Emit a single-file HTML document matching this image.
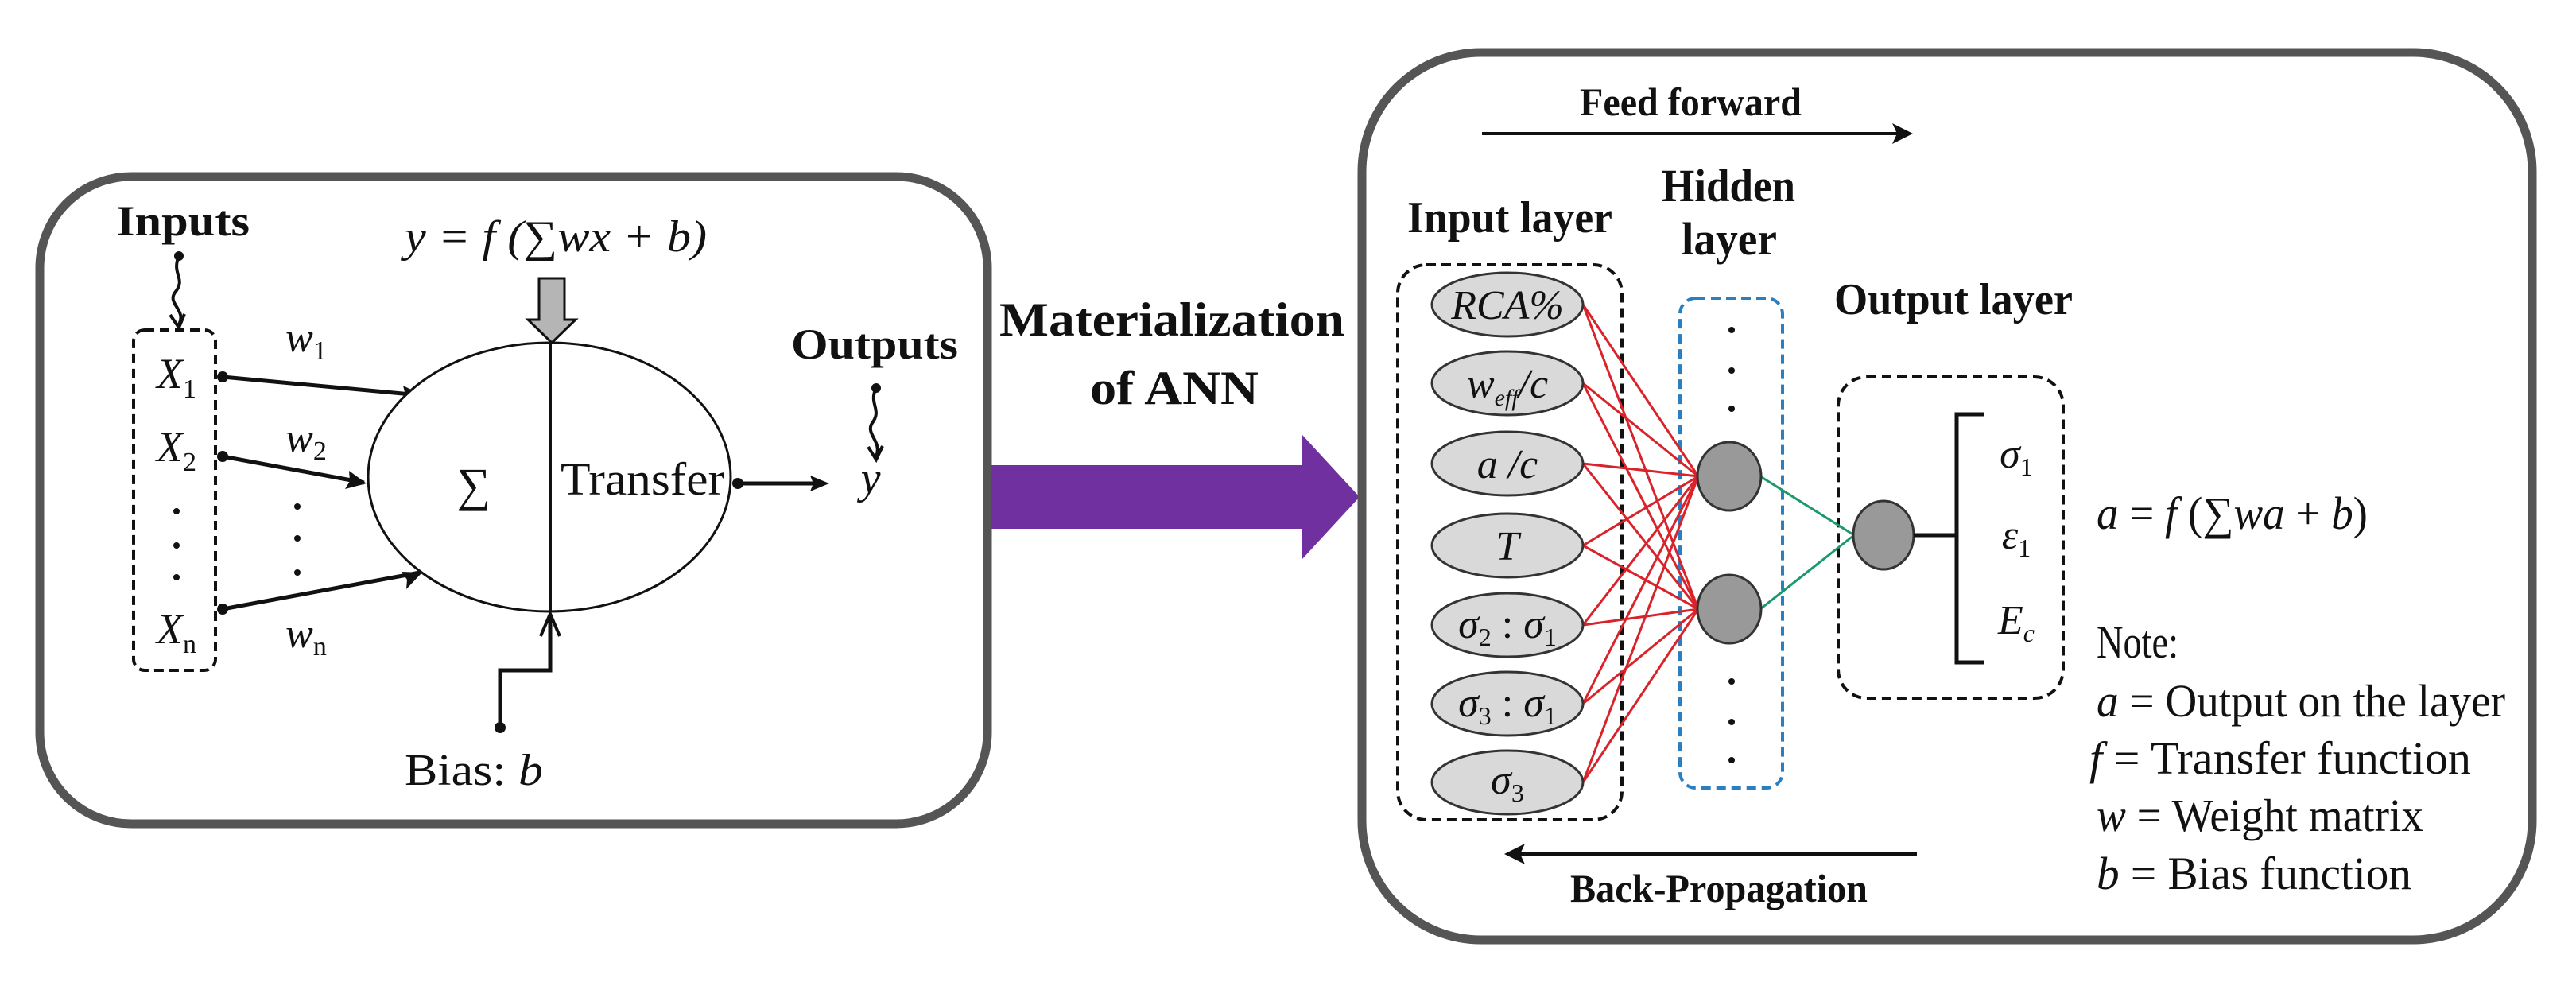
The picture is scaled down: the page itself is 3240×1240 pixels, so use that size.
<!DOCTYPE html>
<html><head><meta charset="utf-8"><style>
html,body{margin:0;padding:0;background:#fff;}
svg{display:block;}
text{font-family:"Liberation Serif",serif;fill:#111;}
.b{font-weight:bold;}
.i{font-style:italic;}
</style></head><body>
<svg width="3240" height="1240" viewBox="0 0 3240 1240" xmlns="http://www.w3.org/2000/svg">
<!-- Left box -->
<rect x="50" y="222" width="1192" height="814" rx="115" fill="none" stroke="#555" stroke-width="11"/>
<text x="146" y="296" font-size="54" class="b" textLength="168" lengthAdjust="spacingAndGlyphs">Inputs</text>
<circle cx="225" cy="322" r="6" fill="#111"/>
<path d="M225 322 C 215 345, 235 350, 220 368 C 210 382, 235 390, 225 408" fill="none" stroke="#111" stroke-width="4"/>
<path d="M214 396 L225 412 L232 395" fill="none" stroke="#111" stroke-width="4"/>
<rect x="168" y="415" width="103" height="428" rx="14" fill="none" stroke="#111" stroke-width="4" stroke-dasharray="12 7"/>
<text x="222" y="488" font-size="54" class="i" text-anchor="middle">X<tspan font-size="34" dy="12" font-style="normal">1</tspan></text>
<text x="222" y="580" font-size="54" class="i" text-anchor="middle">X<tspan font-size="34" dy="12" font-style="normal">2</tspan></text>
<circle cx="222" cy="643" r="4" fill="#111"/><circle cx="222" cy="686" r="4" fill="#111"/><circle cx="222" cy="726" r="4" fill="#111"/>
<text x="222" y="809" font-size="54" class="i" text-anchor="middle">X<tspan font-size="34" dy="12" font-style="normal">n</tspan></text>
<g stroke="#111" stroke-width="5" fill="none">
<line x1="280" y1="474" x2="528" y2="497"/>
<line x1="280" y1="574" x2="458" y2="607"/>
<line x1="280" y1="766" x2="528" y2="720"/>
</g>
<g fill="#111">
<circle cx="280" cy="474" r="7"/><circle cx="280" cy="574" r="7"/><circle cx="280" cy="766" r="7"/>
<path d="M531 497 l-24 -12 l3 12 l-4 11 z"/>
<path d="M461 608 l-22 -16 l1 13 l-6 10 z"/>
<path d="M531 720 l-26 -1 l7 10 l-1 12 z"/>
</g>
<text x="385" y="442" font-size="52" class="i" text-anchor="middle">w<tspan font-size="34" dy="10" font-style="normal">1</tspan></text>
<text x="385" y="568" font-size="52" class="i" text-anchor="middle">w<tspan font-size="34" dy="10" font-style="normal">2</tspan></text>
<circle cx="374" cy="637" r="4" fill="#111"/><circle cx="374" cy="677" r="4" fill="#111"/><circle cx="374" cy="720" r="4" fill="#111"/>
<text x="385" y="814" font-size="52" class="i" text-anchor="middle">w<tspan font-size="34" dy="10" font-style="normal">n</tspan></text>
<ellipse cx="691" cy="600" rx="228" ry="169" fill="#fff" stroke="#111" stroke-width="3"/>
<line x1="692" y1="431" x2="692" y2="769" stroke="#111" stroke-width="4"/>
<text x="596" y="630" font-size="60" text-anchor="middle">∑</text>
<text x="705" y="622" font-size="58" textLength="206" lengthAdjust="spacingAndGlyphs">Transfer</text>
<text x="509" y="316" font-size="56" class="i" textLength="380" lengthAdjust="spacingAndGlyphs">y = f (∑wx + b)</text>
<path d="M678 350 L710 350 L710 402 L724 402 L694 431 L664 402 L678 402 Z" fill="#b5b5b5" stroke="#111" stroke-width="3"/>
<path d="M629 915 L629 843 L692 843 L692 775" fill="none" stroke="#111" stroke-width="5"/>
<path d="M680 800 L692 772 L704 800" fill="none" stroke="#111" stroke-width="4"/>
<circle cx="629" cy="915" r="7" fill="#111"/>
<text x="509" y="987" font-size="56" textLength="174" lengthAdjust="spacingAndGlyphs">Bias: <tspan class="i">b</tspan></text>
<circle cx="928" cy="608" r="7" fill="#111"/>
<line x1="928" y1="608" x2="1030" y2="608" stroke="#111" stroke-width="5"/>
<path d="M1043 608 l-24 -10 l4 10 l-4 10 z" fill="#111"/>
<text x="1095" y="620" font-size="56" class="i" text-anchor="middle">y</text>
<text x="995" y="451" font-size="54" class="b" textLength="210" lengthAdjust="spacingAndGlyphs">Outputs</text>
<circle cx="1102" cy="488" r="6" fill="#111"/>
<path d="M1102 488 C 1092 508, 1110 515, 1097 532 C 1088 546, 1110 555, 1102 574" fill="none" stroke="#111" stroke-width="4"/>
<path d="M1092 562 L1102 578 L1110 561" fill="none" stroke="#111" stroke-width="4"/>
<text x="1257" y="422" font-size="60" class="b" textLength="434" lengthAdjust="spacingAndGlyphs">Materialization</text>
<text x="1371" y="508" font-size="60" class="b" textLength="212" lengthAdjust="spacingAndGlyphs">of ANN</text>
<path d="M1247 585 L1638 585 L1638 547 L1710 625 L1638 703 L1638 665 L1247 665 Z" fill="#7030a0"/>
<!-- Right box -->
<rect x="1713" y="66" width="1472" height="1116" rx="150" fill="none" stroke="#555" stroke-width="11"/>
<text x="1987" y="145" font-size="50" class="b" textLength="279" lengthAdjust="spacingAndGlyphs">Feed forward</text>
<line x1="1864" y1="168" x2="2392" y2="168" stroke="#111" stroke-width="4"/>
<path d="M2406 168 l-26 -13 l6 13 l-6 13 z" fill="#111"/>
<text x="1770" y="292" font-size="56" class="b" textLength="258" lengthAdjust="spacingAndGlyphs">Input layer</text>
<text x="2090" y="253" font-size="58" class="b" textLength="168" lengthAdjust="spacingAndGlyphs">Hidden</text>
<text x="2115" y="320" font-size="58" class="b" textLength="120" lengthAdjust="spacingAndGlyphs">layer</text>
<text x="2307" y="395" font-size="56" class="b" textLength="300" lengthAdjust="spacingAndGlyphs">Output layer</text>
<rect x="1758" y="333" width="282" height="698" rx="36" fill="none" stroke="#111" stroke-width="4" stroke-dasharray="12 7"/>
<rect x="2113" y="375" width="129" height="616" rx="20" fill="none" stroke="#2a7fc0" stroke-width="4" stroke-dasharray="12 7"/>
<rect x="2312" y="474" width="283" height="404" rx="36" fill="none" stroke="#111" stroke-width="4" stroke-dasharray="12 7"/>
<g stroke="#d9232a" stroke-width="3">
<line x1="1991" y1="383" x2="2136" y2="599"/><line x1="1991" y1="383" x2="2136" y2="766"/>
<line x1="1991" y1="482" x2="2136" y2="599"/><line x1="1991" y1="482" x2="2136" y2="766"/>
<line x1="1991" y1="583" x2="2136" y2="599"/><line x1="1991" y1="583" x2="2136" y2="766"/>
<line x1="1991" y1="686" x2="2136" y2="599"/><line x1="1991" y1="686" x2="2136" y2="766"/>
<line x1="1991" y1="786" x2="2136" y2="599"/><line x1="1991" y1="786" x2="2136" y2="766"/>
<line x1="1991" y1="885" x2="2136" y2="599"/><line x1="1991" y1="885" x2="2136" y2="766"/>
<line x1="1991" y1="984" x2="2136" y2="599"/><line x1="1991" y1="984" x2="2136" y2="766"/>
</g>
<g stroke="#1a9a6a" stroke-width="3">
<line x1="2214" y1="599" x2="2332" y2="673"/><line x1="2214" y1="766" x2="2332" y2="673"/>
</g>
<g fill="#d9d9d9" stroke="#333" stroke-width="3">
<ellipse cx="1896" cy="383" rx="95" ry="40"/>
<ellipse cx="1896" cy="482" rx="95" ry="40"/>
<ellipse cx="1896" cy="583" rx="95" ry="40"/>
<ellipse cx="1896" cy="686" rx="95" ry="40"/>
<ellipse cx="1896" cy="786" rx="95" ry="40"/>
<ellipse cx="1896" cy="885" rx="95" ry="40"/>
<ellipse cx="1896" cy="984" rx="95" ry="40"/>
</g>
<g font-size="52" class="i" text-anchor="middle">
<text x="1896" y="401" class="i">RCA%</text>
<text x="1896" y="500" class="i">w<tspan font-size="30" dy="10">eff</tspan><tspan dy="-10">/c</tspan></text>
<text x="1896" y="601" class="i">a /c</text>
<text x="1896" y="704" class="i">T</text>
<text x="1896" y="802" class="i">σ<tspan font-size="32" dy="10" font-style="normal">2</tspan><tspan dy="-10" font-style="normal"> : </tspan>σ<tspan font-size="32" dy="10" font-style="normal">1</tspan></text>
<text x="1896" y="901" class="i">σ<tspan font-size="32" dy="10" font-style="normal">3</tspan><tspan dy="-10" font-style="normal"> : </tspan>σ<tspan font-size="32" dy="10" font-style="normal">1</tspan></text>
<text x="1896" y="998" class="i">σ<tspan font-size="32" dy="10" font-style="normal">3</tspan></text>
</g>
<g fill="#111">
<circle cx="2178" cy="415" r="4"/><circle cx="2178" cy="466" r="4"/><circle cx="2178" cy="514" r="4"/>
<circle cx="2178" cy="857" r="4"/><circle cx="2178" cy="908" r="4"/><circle cx="2178" cy="956" r="4"/>
</g>
<g fill="#999" stroke="#333" stroke-width="3">
<ellipse cx="2175" cy="599" rx="40" ry="43"/>
<ellipse cx="2175" cy="766" rx="40" ry="43"/>
<ellipse cx="2369" cy="673" rx="38" ry="43"/>
</g>
<line x1="2407" y1="673" x2="2461" y2="673" stroke="#111" stroke-width="5"/>
<path d="M2496 521 L2461 521 L2461 833 L2496 833" fill="none" stroke="#111" stroke-width="5"/>
<text x="2536" y="588" font-size="52" class="i" text-anchor="middle">σ<tspan font-size="32" dy="10" font-style="normal">1</tspan></text>
<text x="2536" y="690" font-size="52" class="i" text-anchor="middle">ε<tspan font-size="32" dy="10" font-style="normal">1</tspan></text>
<text x="2536" y="797" font-size="52" class="i" text-anchor="middle">E<tspan font-size="32" dy="10">c</tspan></text>
<text x="2637" y="665" font-size="58" textLength="341" lengthAdjust="spacingAndGlyphs"><tspan class="i">a</tspan> = <tspan class="i">f</tspan> (∑<tspan class="i">wa</tspan> + <tspan class="i">b</tspan>)</text>
<g font-size="58">
<text x="2637" y="827" textLength="103" lengthAdjust="spacingAndGlyphs">Note:</text>
<text x="2637" y="901" textLength="514" lengthAdjust="spacingAndGlyphs"><tspan class="i">a</tspan> = Output on the layer</text>
<text x="2628" y="973" textLength="480" lengthAdjust="spacingAndGlyphs"><tspan class="i">f</tspan> = Transfer function</text>
<text x="2637" y="1045" textLength="411" lengthAdjust="spacingAndGlyphs"><tspan class="i">w</tspan> = Weight matrix</text>
<text x="2637" y="1118" textLength="396" lengthAdjust="spacingAndGlyphs"><tspan class="i">b</tspan>  = Bias function</text>
</g>
<line x1="1908" y1="1074" x2="2411" y2="1074" stroke="#111" stroke-width="4"/>
<path d="M1892 1074 l26 -13 l-6 13 l6 13 z" fill="#111"/>
<text x="1975" y="1134" font-size="50" class="b" textLength="374" lengthAdjust="spacingAndGlyphs">Back-Propagation</text>
</svg>
</body></html>
